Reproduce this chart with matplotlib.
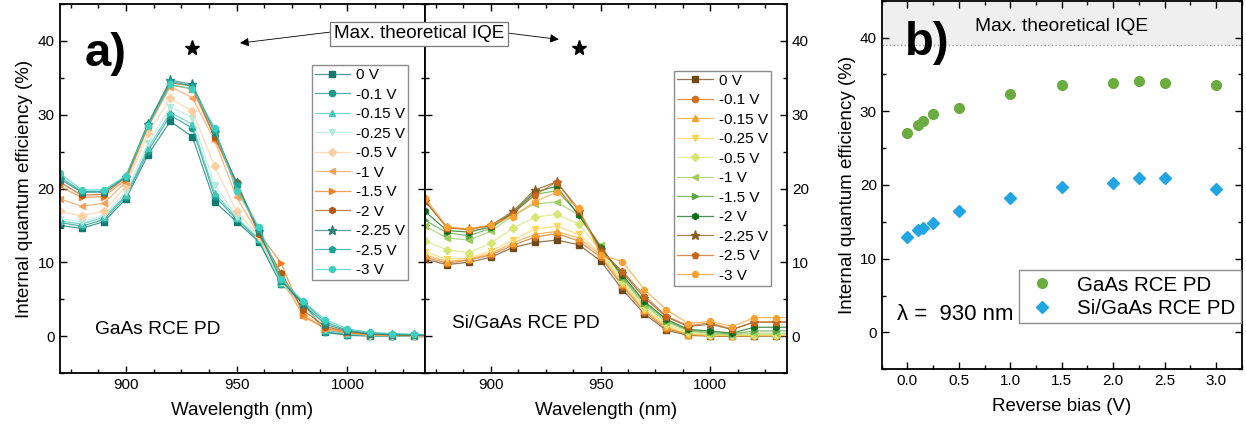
import matplotlib
matplotlib.use("Agg")
import matplotlib.pyplot as plt
from matplotlib.ticker import MultipleLocator, FormatStrFormatter
from matplotlib.colors import to_rgba

plt.rcParams['font.family'] = ['Liberation Sans', 'DejaVu Sans']

# ---------------- data ----------------
wavelength = [870, 880, 890, 900, 910, 920, 930, 940, 950, 960, 970, 980, 990, 1000, 1010, 1020, 1030, 1040]
bias_labels = ["0 V", "-0.1 V", "-0.15 V", "-0.25 V", "-0.5 V", "-1 V", "-1.5 V", "-2 V", "-2.25 V", "-2.5 V", "-3 V"]

# GaAs RCE PD IQE (%) vs wavelength
gaas_0v    = [15.0, 14.6, 15.5, 18.6, 24.6, 29.1, 27.0, 18.2, 15.5, 12.8, 7.0, 4.5, 0.5, 0.1, 0.0, 0.0, 0.0, 0.0]
gaas_m01   = [15.4, 14.9, 15.8, 18.9, 25.1, 29.9, 28.2, 19.0, 15.8, 13.0, 7.1, 4.6, 0.6, 0.2, 0.05, 0.0, 0.0, 0.0]
gaas_m015  = [15.6, 15.2, 16.1, 19.1, 25.5, 30.3, 28.7, 19.4, 16.0, 13.2, 7.2, 4.4, 0.8, 0.3, 0.1, 0.05, 0.0, 0.0]
gaas_m025  = [15.9, 15.5, 16.4, 19.5, 26.1, 31.1, 29.6, 20.5, 16.2, 13.3, 7.3, 4.0, 1.0, 0.4, 0.1, 0.05, 0.05, 0.0]
gaas_m05   = [16.9, 16.3, 16.9, 20.3, 27.5, 32.2, 30.5, 23.0, 16.9, 13.5, 7.5, 3.0, 1.2, 0.5, 0.15, 0.1, 0.05, 0.0]
gaas_m1    = [18.6, 17.6, 18.0, 20.9, 28.3, 33.8, 32.3, 26.5, 18.8, 13.7, 8.3, 2.6, 1.1, 0.5, 0.2, 0.1, 0.05, 0.05]
gaas_m15   = [20.3, 18.8, 18.9, 21.2, 28.5, 34.0, 33.5, 26.9, 20.3, 14.0, 9.9, 2.8, 1.0, 0.4, 0.2, 0.1, 0.1, 0.05]
gaas_m2    = [20.9, 19.1, 19.2, 21.5, 28.6, 34.3, 33.9, 27.0, 20.9, 13.8, 8.6, 3.5, 1.3, 0.6, 0.3, 0.2, 0.1, 0.1]
gaas_m225  = [21.3, 19.5, 19.5, 21.6, 28.8, 34.7, 34.1, 27.6, 20.7, 14.2, 7.6, 4.3, 1.6, 0.7, 0.3, 0.2, 0.15, 0.1]
gaas_m25   = [21.6, 19.6, 19.6, 21.6, 28.8, 34.5, 33.9, 27.9, 20.5, 14.5, 7.5, 4.6, 1.9, 0.8, 0.4, 0.3, 0.2, 0.15]
gaas_m3    = [22.1, 19.8, 19.8, 21.7, 28.5, 34.1, 33.5, 28.2, 19.6, 14.8, 7.8, 4.7, 2.2, 1.0, 0.5, 0.35, 0.25, 0.2]

# Si/GaAs RCE PD IQE (%) vs wavelength
si_0v    = [10.4, 9.7, 10.0, 10.7, 12.0, 12.7, 13.0, 12.4, 10.2, 6.3, 3.0, 0.8, 0.1, 0.0, 0.0, 0.0, 0.0, 0.0]
si_m01   = [10.7, 9.9, 10.3, 11.0, 12.3, 13.4, 13.9, 12.9, 10.7, 6.8, 3.3, 1.0, 0.2, 0.05, 0.0, 0.05, 0.05, 0.05]
si_m015  = [11.0, 10.1, 10.4, 11.2, 12.6, 13.8, 14.2, 13.3, 11.0, 7.0, 3.5, 1.2, 0.2, 0.1, 0.05, 0.1, 0.1, 0.1]
si_m025  = [11.4, 10.4, 10.6, 11.5, 13.0, 14.5, 14.9, 13.8, 11.3, 7.2, 3.6, 1.4, 0.3, 0.1, 0.1, 0.1, 0.1, 0.1]
si_m05   = [12.9, 11.7, 11.3, 12.6, 14.6, 16.1, 16.5, 15.2, 11.6, 7.5, 3.9, 1.6, 0.5, 0.2, 0.1, 0.2, 0.2, 0.2]
si_m1    = [14.9, 13.3, 13.0, 14.2, 16.3, 17.9, 18.2, 16.4, 12.3, 7.8, 4.2, 1.9, 0.7, 0.3, 0.2, 0.4, 0.4, 0.4]
si_m15   = [15.7, 14.0, 13.6, 14.6, 16.6, 19.2, 19.7, 16.6, 12.2, 8.0, 4.5, 2.1, 0.8, 0.5, 0.3, 0.7, 0.7, 0.7]
si_m2    = [16.9, 14.3, 14.1, 14.8, 16.7, 19.5, 20.3, 16.4, 12.0, 8.3, 4.7, 2.3, 0.9, 0.7, 0.4, 1.2, 1.2, 1.2]
si_m225  = [18.3, 14.7, 14.5, 15.0, 16.9, 19.8, 20.9, 17.0, 11.8, 8.6, 5.2, 2.6, 1.3, 1.6, 0.9, 1.9, 1.9, 1.9]
si_m25   = [18.4, 14.7, 14.4, 15.0, 16.6, 19.1, 20.9, 17.2, 11.4, 8.8, 5.5, 2.7, 1.4, 1.8, 0.9, 1.9, 1.9, 1.9]
si_m3    = [18.7, 14.8, 14.5, 15.1, 16.2, 18.2, 19.5, 17.4, 11.0, 10.1, 6.3, 3.6, 1.7, 2.0, 1.3, 2.5, 2.5, 2.5]

# IQE at 930 nm vs reverse bias
reverse_bias = [0.0, 0.1, 0.15, 0.25, 0.5, 1.0, 1.5, 2.0, 2.25, 2.5, 3.0]
iqe930_gaas = [27.0, 28.2, 28.7, 29.6, 30.5, 32.3, 33.5, 33.9, 34.1, 33.9, 33.5]
iqe930_si = [13.0, 13.9, 14.2, 14.9, 16.5, 18.2, 19.7, 20.3, 20.9, 20.9, 19.5]

max_iqe = 39.0

gaas_series = [gaas_0v, gaas_m01, gaas_m015, gaas_m025, gaas_m05, gaas_m1, gaas_m15, gaas_m2, gaas_m225, gaas_m25, gaas_m3]
si_series = [si_0v, si_m01, si_m015, si_m025, si_m05, si_m1, si_m15, si_m2, si_m225, si_m25, si_m3]

# ---------------- styles ----------------
markers = ['s', 'o', '^', 'v', 'D', '<', '>', 'h', '*', 'p', '8']
gaas_colors = ['#127a70', '#179a8b', '#45c8b7', '#b3e9dd', '#fdcfa0', '#f8a05a',
               '#f07f22', '#b4580e', '#2a7f77', '#18a595', '#3dcfbf']
si_colors = ['#6e4a1a', '#cf6f1f', '#fb9f2e', '#fdd35a', '#d6e673', '#9ecb5e',
             '#58a740', '#0e6e1a', '#8a5b22', '#c9661b', '#f9a132']

W, H = 1246, 434
fig = plt.figure(figsize=(W / 100, H / 100), dpi=100)

ax1 = fig.add_axes([59.5 / W, 1 - 373 / H, (425 - 59.5) / W, 369 / H])
ax2 = fig.add_axes([425 / W, 1 - 373 / H, (787 - 425) / W, 369 / H])
ax3 = fig.add_axes([881.7 / W, 1 - 369.3 / H, (1241.7 - 881.7) / W, 368.6 / H])

tick_fs = 11
label_fs = 13.5


def style_axis(ax):
    ax.tick_params(which='both', direction='in', top=True, right=True,
                   labelsize=tick_fs, width=1.0)
    ax.tick_params(which='major', length=5)
    ax.tick_params(which='minor', length=3)
    for s in ax.spines.values():
        s.set_linewidth(1.3)


for ax, series, colors in ((ax1, gaas_series, gaas_colors), (ax2, si_series, si_colors)):
    for vals, lab, mk, col in zip(series, bias_labels, markers, colors):
        ms = 6.5 if mk == '*' else 4.5
        ax.plot(wavelength, vals, marker=mk, ms=ms, lw=0.9,
                color=to_rgba(col, 0.75), markerfacecolor=col, markeredgecolor=col,
                label=lab)
    ax.set_xlim(870, 1035)
    ax.set_ylim(-5, 45)
    ax.xaxis.set_major_locator(MultipleLocator(50))
    ax.xaxis.set_minor_locator(MultipleLocator(12.5))
    ax.yaxis.set_major_locator(MultipleLocator(10))
    ax.yaxis.set_minor_locator(MultipleLocator(5))
    style_axis(ax)
    ax.set_xlabel("Wavelength (nm)", fontsize=label_fs, labelpad=7)

ax2.tick_params(axis='y', labelleft=False, labelright=True)
ax1.set_ylabel("Internal quantum efficiency (%)", fontsize=label_fs, labelpad=3)

ax1.plot([930], [max_iqe], marker='*', color='k', ms=11, ls='none')
ax2.plot([940], [max_iqe], marker='*', color='k', ms=11, ls='none')

leg_kw = dict(fontsize=11, frameon=True, fancybox=False, edgecolor='#8c8c8c',
              handlelength=2.3, labelspacing=0.36, borderaxespad=0, borderpad=0.2,
              handletextpad=0.4, framealpha=1)
l1 = ax1.legend(loc='upper right', bbox_to_anchor=(0.9535, 0.8347), **leg_kw)
l2 = ax2.legend(loc='upper right', bbox_to_anchor=(0.955, 0.819), **leg_kw)
for l in (l1, l2):
    l.get_frame().set_linewidth(1.0)

ax1.text(0.097, 0.118, "GaAs RCE PD", transform=ax1.transAxes, fontsize=13.8, va='center')
ax2.text(0.074, 0.135, "Si/GaAs RCE PD", transform=ax2.transAxes, fontsize=13.8, va='center')
ax1.text(0.07, 0.865, "a)", transform=ax1.transAxes, fontsize=34, fontweight='bold', va='center')

# Max theoretical IQE label with arrows
fig.text(419 / W, 1 - 34 / H, "Max. theoretical IQE", fontsize=13.6, ha='center', va='center',
         bbox=dict(boxstyle='square,pad=0.2', fc='white', ec='#7a7a7a', lw=0.9), zorder=10)
arrow_kw = dict(arrowstyle='-|>', color='k', lw=0.6, mutation_scale=13, shrinkA=0, shrinkB=0)
ax1.annotate('', xy=(951.5, 39.7), xycoords='data', xytext=(331 / W, 1 - 32 / H),
             textcoords='figure fraction', arrowprops=arrow_kw)
ax2.annotate('', xy=(931, 40.2), xycoords='data', xytext=(507 / W, 1 - 33 / H),
             textcoords='figure fraction', arrowprops=arrow_kw)

# ---------------- panel b ----------------
ax3.axhspan(max_iqe, 45, color='#efefef', zorder=0, lw=0)
ax3.axhline(max_iqe, color='#9a9a9a', ls=':', lw=1.0, zorder=1)
ax3.plot(reverse_bias, iqe930_gaas, 'o', color='#6aac3f', ms=7, ls='none', label='GaAs RCE PD')
ax3.plot(reverse_bias, iqe930_si, 'D', color='#22a6e3', ms=6.3, ls='none', label='Si/GaAs RCE PD')
ax3.set_xlim(-0.25, 3.25)
ax3.set_ylim(-5, 45)
ax3.xaxis.set_major_locator(MultipleLocator(0.5))
ax3.xaxis.set_minor_locator(MultipleLocator(0.25))
ax3.yaxis.set_major_locator(MultipleLocator(10))
ax3.yaxis.set_minor_locator(MultipleLocator(5))
ax3.xaxis.set_major_formatter(FormatStrFormatter('%.1f'))
style_axis(ax3)
ax3.set_xlabel("Reverse bias (V)", fontsize=label_fs, labelpad=7)
ax3.set_ylabel("Internal quantum efficiency (%)", fontsize=label_fs, labelpad=3)
ax3.text(1.5, 41.5, "Max. theoretical IQE", fontsize=13.8, ha='center', va='center')
ax3.text(0.065, 0.885, "b)", transform=ax3.transAxes, fontsize=34, fontweight='bold', va='center')
ax3.text(-0.1, 2.5, "λ =  930 nm", fontsize=16, va='center')
l3 = ax3.legend(loc='lower right', bbox_to_anchor=(0.997, 0.126), fontsize=14.8, frameon=True,
                fancybox=False, edgecolor='#8c8c8c', borderaxespad=0, handletextpad=0.8,
                handlelength=1.8, labelspacing=0.2, borderpad=0.25, framealpha=1)
l3.get_frame().set_linewidth(1.0)

fig.savefig("out.png", dpi=100)
